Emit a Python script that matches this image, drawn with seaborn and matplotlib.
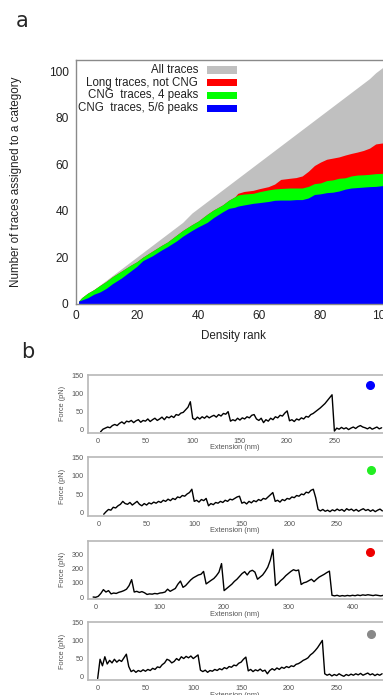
import numpy as np
import matplotlib
matplotlib.use('Agg')
import matplotlib.pyplot as plt
from matplotlib.patches import Rectangle
import seaborn as sns

# ---- panel a: cumulative number of traces per category vs density rank ----
rank = [1, 2, 4, 6, 8, 10, 12, 15, 18, 20, 22, 25, 28, 30, 33, 35, 38, 40, 43, 45,
        48, 50, 52, 53, 55, 58, 60, 63, 65, 67, 70, 72, 74, 76, 78, 80, 82, 84, 86, 88,
        90, 92, 94, 96, 98, 100, 101]
all_traces = [1, 2, 4, 6, 8, 10, 12, 15, 18, 20, 22, 25, 28, 30, 33, 35, 39, 41, 44, 46,
              49, 51, 53, 54, 56, 59, 61, 64, 66, 68, 71, 73, 75, 77, 79, 81, 83, 85, 87, 89,
              91, 93, 95, 97, 99.5, 101.5, 102.5]
top_cng4 = [1, 2.5, 4.5, 6, 7.8, 9.5, 11.5, 14, 16.5, 18, 20, 22.5, 25, 26.5, 29.5, 31.5, 34, 35.5, 38.5, 40.3,
            42.5, 44.5, 46, 46.8, 47.2, 47.5, 48.2, 49, 49.4, 49.6, 49.8, 49.8, 49.8, 50.5, 51.7, 52, 53, 53.3, 54, 54.2,
            55, 55.4, 55.5, 55.7, 56, 56.1, 56.3]
top_long = [1, 2.5, 4.5, 6, 7.8, 9.5, 11.5, 14, 16.5, 18, 20, 22.5, 25, 26.5, 29.5, 31.5, 34, 35.5, 38.5, 40.3,
            42.5, 44.5, 46, 47.5, 48.3, 48.8, 49.5, 50.4, 51.5, 53.5, 54, 54.3, 55, 57, 59.5, 61, 62.2, 62.7, 63.2, 64,
            64.7, 65.3, 66, 67, 68.8, 69.2, 69.2]
top_cng56 = [1, 1.5, 2.5, 4, 5, 6.5, 8.5, 11, 14, 16, 18.5, 20.5, 23, 24.5, 27, 29, 31.5, 33, 35, 37,
             39.5, 41, 41.5, 42, 42.5, 43.2, 43.5, 44, 44.5, 44.6, 44.6, 44.8, 44.8, 45.5, 47, 47.3, 47.8, 48, 48.5, 49.3,
             49.8, 50, 50.2, 50.4, 50.5, 50.8, 51]
legend_labels = ['All traces', 'Long traces, not CNG', 'CNG  traces, 4 peaks', 'CNG  traces, 5/6 peaks']
layer_colors = ['#c0c0c0', '#ff0000', '#00ff00', '#0000ff']

# ---- panel b: example force-extension traces ----
# CNG, 5/6 peaks (starts at 2.5 nm, every 2.5 nm)
force_cng56 = [-5, 2, 5, 8, 6, 12, 15, 12, 18, 22,
               17, 24, 22, 26, 20, 25, 28, 21, 26, 24,
               30, 23, 28, 32, 26, 30, 35, 28, 36, 33,
               38, 34, 42, 40, 46, 48, 55, 62, 77, 32,
               28, 35, 30, 36, 32, 38, 33, 37, 40, 35,
               42, 38, 45, 43, 50, 24, 28, 25, 32, 27,
               33, 30, 36, 33, 40, 42, 30, 26, 32, 20,
               28, 24, 32, 28, 36, 33, 40, 38, 46, 52,
               25, 28, 23, 30, 27, 33, 30, 37, 35, 42,
               45, 50, 55, 60, 66, 72, 80, 88, 96, -3,
               5, 2, 7, 3, 6, 1, 5, 8, 4, 9,
               12, 8, 6, 3, 7, 2, 5, 8, 3, 6]
# CNG, 4 peaks (starts at 5 nm, every 2.5 nm)
force_cng4 = [-5, 2, 8, 6, 14, 12, 18, 22, 30, 24,
              22, 27, 20, 25, 30, 22, 18, 24, 20, 26,
              23, 28, 25, 30, 27, 33, 30, 36, 32, 38,
              35, 42, 40, 46, 44, 50, 54, 63, 30, 33,
              28, 35, 32, 38, 18, 24, 21, 27, 25, 30,
              27, 33, 30, 36, 34, 38, 42, 44, 25, 28,
              23, 30, 26, 32, 29, 35, 32, 38, 36, 42,
              48, 54, 30, 33, 28, 35, 32, 38, 36, 42,
              40, 46, 44, 50, 48, 55, 53, 60, 63, 40,
              8, 4, 8, 3, 6, 2, 7, 4, 9, 5,
              8, 3, 10, 6, 9, 4, 8, 3, 7, 10,
              5, 8, 3, 7, 2, 6, 9, 4]
# long, not CNG (starts at -4 nm, every 4 nm)
force_long = [0, -2, 5, 25, 52, 35, 45, 22, 28, 25,
              33, 38, 45, 55, 80, 122, 35, 40, 32, 38,
              30, 18, 22, 20, 25, 22, 28, 30, 35, 55,
              40, 50, 60, 90, 112, 68, 80, 100, 120, 135,
              145, 155, 160, 180, 92, 105, 118, 130, 150, 175,
              235, 45, 60, 75, 90, 110, 125, 145, 165, 178,
              155, 180, 188, 175, 125, 140, 155, 180, 210, 260,
              335, 80, 95, 115, 130, 150, 165, 180, 192, 185,
              190, 88, 100, 105, 115, 125, 108, 125, 140, 150,
              160, 172, 182, 12, 8, 12, 6, 10, 7, 11,
              8, 12, 9, 14, 10, 15, 12, 16, 13, 10,
              14, 11, 8, 12]
# other trace (starts at 0 nm, every 2.5 nm)
force_other = [-5, 48, 30, 55, 35, 45, 38, 48, 40, 46,
               42, 52, 62, 28, 14, 18, 12, 17, 14, 19,
               15, 20, 17, 23, 20, 27, 25, 33, 38, 48,
               45, 38, 42, 50, 45, 55, 50, 56, 52, 57,
               50, 55, 60, 18, 14, 18, 12, 17, 15, 20,
               17, 22, 19, 25, 22, 28, 26, 32, 30, 37,
               40, 48, 54, 16, 20, 14, 19, 16, 21, 15,
               18, 8, 17, 22, 18, 24, 20, 26, 23, 28,
               25, 30, 28, 34, 36, 40, 45, 48, 52, 60,
               65, 72, 80, 90, 100, 8, 4, 7, 2, 6,
               3, 8, 4, 1, 6, 3, 7, 4, 8, 5,
               9, 4, 7, 10, 5, 8, 3, 7, 4, 8]

sns.set_style('white')
plt.rcParams['font.family'] = ['Liberation Sans', 'DejaVu Sans']

W, H = 383, 695
fig = plt.figure(figsize=(W / 100, H / 100), dpi=100)

def px_axes(left, top, right, bottom):
    return fig.add_axes([left / W, (H - bottom) / H, (right - left) / W, (bottom - top) / H])

# panel a
ax = px_axes(75.5, 60, 391, 303.5)
for top, col in zip([all_traces, top_long, top_cng4, top_cng56], layer_colors):
    ax.fill_between(rank, 0, top, color=col, lw=0)
ax.set_xlim(0, 103)
ax.set_ylim(0, 105)
ax.set_xticks(range(0, 101, 20))
ax.set_yticks(range(0, 101, 20))
ax.tick_params(direction='in', length=3, width=0.8, color='#808080',
               labelsize=8.6, labelcolor='#222222', pad=5)
for s in ax.spines.values():
    s.set_color('#8a8a8a')
    s.set_linewidth(1.0)
ax.set_xlabel('Density rank', fontsize=8.4, color='#222222')
ax.set_ylabel('Number of traces assigned to a category', fontsize=8.4, color='#222222')
ax.xaxis.set_label_coords(0.5, -0.11)
ax.yaxis.set_label_coords(-0.171, 0.5)

for i, (lab, col) in enumerate(zip(legend_labels, layer_colors)):
    y = 0.959 - i * 0.0523
    ax.text(0.388, y, lab, ha='right', va='center', transform=ax.transAxes,
            fontsize=8.3, color='#222222')
    ax.add_patch(Rectangle((0.416, y - 0.0145), 0.095, 0.029, transform=ax.transAxes,
                           color=col, lw=0))

# panel b
traces = [
    (force_cng56, 2.5, 2.5, (432.7, 375), (-10.5, 302.5), (-7.5, 150), [0, 50, 100, 150],
     range(0, 251, 50), '#0000ff', (0.952, 0.827)),
    (force_cng4, 5, 2.5, (515.7, 456.7), (-11.2, 299.2), (-9, 151.5), [0, 50, 100, 150],
     range(0, 251, 50), '#22ee22', (0.955, 0.775)),
    (force_long, -4, 4, (599, 540.7), (-11.5, 449), (-14, 396), [0, 100, 200, 300],
     range(0, 401, 100), '#ee0000', (0.953, 0.80)),
    (force_other, 0, 2.5, (680.3, 622.3), (-9.8, 299.5), (-10, 150), [0, 50, 100, 150],
     range(0, 251, 50), '#888888', (0.956, 0.793)),
]
for force, start, step, (bot, top), xl, yl, yt, xt, dot, dpos in traces:
    bx = px_axes(88.3, top, 384, bot)
    ext = start + step * np.arange(len(force))
    sns.lineplot(x=ext, y=force, ax=bx, color='black', linewidth=1.0,
                 estimator=None, sort=False)
    bx.plot([dpos[0]], [dpos[1]], 'o', color=dot, markersize=5.5,
            transform=bx.transAxes, clip_on=False)
    bx.set_xlim(*xl)
    bx.set_ylim(*yl)
    bx.set_yticks(yt)
    bx.set_xticks(list(xt))
    bx.tick_params(direction='out', length=2, width=0.6, color='#999999',
                   labelsize=5.2, labelcolor='#555555', pad=1.5)
    for s in bx.spines.values():
        s.set_color('#b8b8b8')
        s.set_linewidth(1.2)
    bx.set_xlabel('Extension (nm)', fontsize=5.3, color='#555555')
    bx.set_ylabel('Force (pN)', fontsize=5.3, color='#555555')
    bx.xaxis.set_label_coords(0.496, -0.2)
    bx.yaxis.set_label_coords(-0.076, 0.5)

fig.text(16 / W, 1 - 26.7 / H, 'a', fontsize=15, family='DejaVu Sans', va='baseline')
fig.text(20.7 / W, 1 - 358.3 / H, 'b', fontsize=15, family='DejaVu Sans', va='baseline')

fig.savefig('out.png', dpi=100)
